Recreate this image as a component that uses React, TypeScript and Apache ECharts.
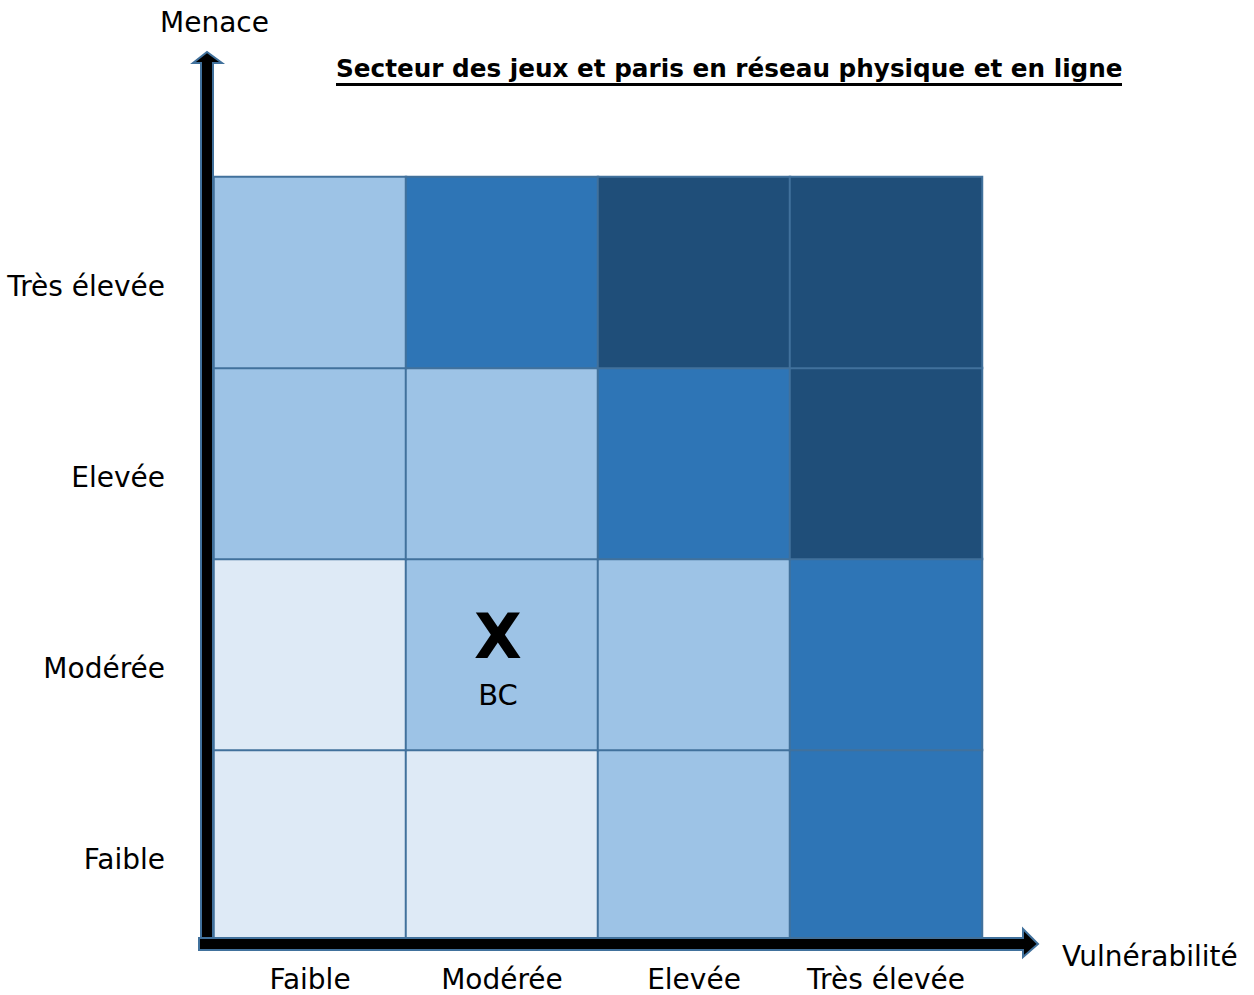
import React, { useEffect, useRef } from "react";
import * as echarts from "echarts";

const vulnerabilityLevels = ["Faible", "Modérée", "Elevée", "Très élevée"];
const threatLevels = ["Faible", "Modérée", "Elevée", "Très élevée"];
// risk level per cell: rows = threat (Faible -> Très élevée), columns = vulnerability
const riskRows = [
  [1, 1, 2, 3],
  [1, 2, 2, 3],
  [2, 2, 3, 4],
  [2, 3, 4, 4],
];
const markers = [{ x: 1, y: 1, mark: "X", label: "BC" }];
const titleText = "Secteur des jeux et paris en réseau physique et en ligne";
const xAxisName = "Vulnérabilité";
const yAxisName = "Menace";

const FONT = "'DejaVu Sans', sans-serif";
const BORDER = "#41719C";

export default function App() {
  const ref = useRef<HTMLDivElement>(null);
  useEffect(() => {
    if (!ref.current) return;
    const chart = echarts.init(ref.current, undefined, { renderer: "svg" });
    const data: any[] = [];
    riskRows.forEach((row, y) =>
      row.forEach((v, x) => {
        const m = markers.find((k) => k.x === x && k.y === y);
        const item: any = { value: [x, y, v] };
        if (m) {
          item.label = {
            show: true,
            formatter: `{m|${m.mark}}\n{l|${m.label}}`,
            rich: {
              m: { fontFamily: FONT, fontSize: 62, fontWeight: "bold", color: "#000", lineHeight: 58 },
              l: { fontFamily: FONT, fontSize: 29, color: "#000", lineHeight: 58 },
            },
            offset: [-4, 11],
          };
        }
        data.push(item);
      })
    );
    chart.setOption({
      animation: false,
      textStyle: { fontFamily: FONT },
      grid: { left: 214, right: 272, top: 177, bottom: 54 },
      xAxis: {
        type: "category",
        data: vulnerabilityLevels,
        axisLine: { show: false },
        axisTick: { show: false },
        splitLine: { show: false },
        axisLabel: { fontSize: 28, color: "#000", margin: 26, fontFamily: FONT, interval: 0, lineHeight: 24 },
      },
      yAxis: {
        type: "category",
        data: threatLevels,
        axisLine: { show: false },
        axisTick: { show: false },
        splitLine: { show: false },
        axisLabel: {
          fontSize: 28,
          color: "#000",
          margin: 49,
          fontFamily: FONT,
          verticalAlign: "top",
          lineHeight: 28,
          interval: 0,
        },
      },
      visualMap: {
        show: false,
        type: "piecewise",
        dimension: 2,
        pieces: [
          { value: 1, color: "#DEEAF6" },
          { value: 2, color: "#9DC3E6" },
          { value: 3, color: "#2E75B6" },
          { value: 4, color: "#1F4E79" },
        ],
      },
      series: [
        {
          type: "heatmap",
          data,
          label: { show: false },
          itemStyle: { borderColor: BORDER, borderWidth: 2 },
          emphasis: { disabled: true },
        },
      ],
      graphic: [
        {
          type: "text",
          left: 160,
          top: 8,
          style: { text: yAxisName, font: `28px ${FONT}`, fill: "#000" },
        },
        {
          type: "text",
          left: 1062,
          top: 942,
          style: { text: xAxisName, font: `28px ${FONT}`, fill: "#000" },
        },
        {
          type: "text",
          left: 336,
          top: 56,
          style: { text: titleText, font: `bold 24.7px ${FONT}`, fill: "#000" },
        },
        {
          type: "line",
          shape: { x1: 336, y1: 84.5, x2: 1122, y2: 84.5 },
          style: { stroke: "#000", lineWidth: 3 },
        },
        {
          type: "polygon",
          z: 100,
          shape: {
            points: [
              [201, 950], [201, 63], [193, 63], [207, 52], [222, 63], [213, 63], [213, 950],
            ],
          },
          style: { fill: "#000", stroke: BORDER, lineWidth: 2 },
        },
        {
          type: "polygon",
          z: 101,
          shape: {
            points: [
              [199, 938], [1023, 938], [1023, 929], [1038, 944], [1023, 957], [1023, 950], [199, 950],
            ],
          },
          style: { fill: "#000", stroke: BORDER, lineWidth: 2 },
        },
      ],
    });
    return () => chart.dispose();
  }, []);
  return <div ref={ref} style={{ width: 1254, height: 995, position: "absolute", left: 0, top: 0 }} />;
}
